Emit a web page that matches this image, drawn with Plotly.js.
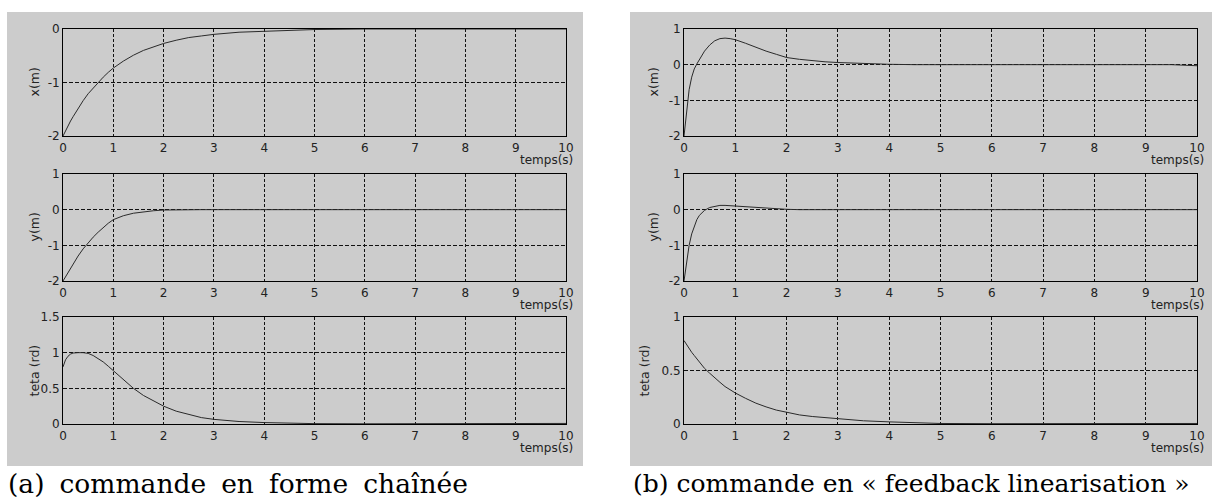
<!DOCTYPE html>
<html>
<head>
<meta charset="utf-8">
<script src="https://cdn.plot.ly/plotly-3.0.1.min.js"></script>
<style>
  html, body { margin: 0; padding: 0; background: #fff; overflow: hidden; }
  #chart { width: 1212px; height: 499px; }
</style>
</head>
<body>
<div id="chart"></div>
<script>
// Time samples (s) shared by all six responses
const temps = [0, 0.05, 0.1, 0.15, 0.2, 0.25, 0.3, 0.4, 0.5, 0.6, 0.7, 0.8, 0.9, 1,
  1.2, 1.4, 1.6, 1.8, 2, 2.25, 2.5, 2.75, 3, 3.5, 4, 4.5, 5, 6, 7, 8, 9, 9.5, 10];

// (a) chained-form control
const xChainee = [-2, -1.90, -1.81, -1.72, -1.64, -1.56, -1.48, -1.34, -1.21, -1.10, -0.99, -0.90, -0.81, -0.73,
  -0.60, -0.49, -0.40, -0.33, -0.27, -0.21, -0.16, -0.13, -0.10, -0.06, -0.04, -0.02, -0.01, 0, 0, 0, 0, 0, 0];
const yChainee = [-2, -1.88, -1.76, -1.64, -1.52, -1.41, -1.30, -1.10, -0.93, -0.77, -0.63, -0.50, -0.38, -0.28,
  -0.17, -0.10, -0.06, -0.03, -0.01, 0, 0, 0, 0, 0, 0, 0, 0, 0, 0, 0, 0, 0, 0];
const tetaChainee = [0.80, 0.90, 0.95, 0.98, 0.995, 1.0, 1.0, 1.0, 0.99, 0.96, 0.92, 0.87, 0.81, 0.75,
  0.62, 0.50, 0.40, 0.32, 0.25, 0.18, 0.13, 0.09, 0.065, 0.035, 0.02, 0.01, 0.005, 0.003, 0.002, 0.001, 0.001, 0.008, 0.008];

// (b) feedback linearisation control
const xFeedback = [-2, -1.25, -0.70, -0.35, -0.12, 0.02, 0.15, 0.38, 0.55, 0.67, 0.73, 0.745, 0.73, 0.70,
  0.60, 0.48, 0.38, 0.29, 0.20, 0.15, 0.11, 0.08, 0.06, 0.03, 0.01, 0, 0, 0, 0, 0, 0, 0, -0.03];
const yFeedback = [-2, -1.45, -1.0, -0.68, -0.45, -0.28, -0.16, -0.02, 0.06, 0.10, 0.12, 0.12, 0.11, 0.09,
  0.07, 0.05, 0.04, 0.025, 0.01, 0, 0, 0, 0, 0, 0, 0, 0, 0, 0, 0, 0, 0, 0];
const tetaFeedback = [0.78, 0.74, 0.705, 0.67, 0.64, 0.61, 0.58, 0.52, 0.475, 0.43, 0.39, 0.35, 0.32, 0.29,
  0.24, 0.195, 0.16, 0.13, 0.11, 0.085, 0.07, 0.06, 0.05, 0.03, 0.02, 0.012, 0.005, 0.003, 0.002, 0.004, 0.005, 0.005, 0.005];

// Axis ticks and labels
const timeTicks = [0, 1, 2, 3, 4, 5, 6, 7, 8, 9, 10];
const timeTickLabels = ['0', '1', '2', '3', '4', '5', '6', '7', '8', '9', '10'];
const posTicksA = [-2, -1, 0];
const posTickLabelsA = ['-2', '-1', '0'];
const posTicks = [-2, -1, 0, 1];
const posTickLabels = ['-2', '-1', '0', '1'];
const angTicksA = [0, 0.5, 1, 1.5];
const angTickLabelsA = ['0', '0.5', '1', '1.5'];
const angTicksB = [0, 0.5, 1];
const angTickLabelsB = ['0', '0.5', '1'];

const timeLabel = 'temps(s)';
const rowLabels = ['x(m)', 'y(m)', 'teta (rd)'];
// caption (a) is set justified across its column, hence the slightly wider word gaps
const captions = ['(a)\u2005 commande\u2005 en\u2005 forme\u2005 chaînée', '(b) commande en « feedback linearisation »'];
const captionSizes = [26.5, 25];

// ---- layout geometry (pixels of the 1212 x 499 page) ----
const W = 1212, H = 499;
const fx = p => p / W;
const fy = p => 1 - p / H;

const panelX = [[63, 566], [684, 1197]];
const rowY = [[29, 136], [174, 281], [317, 424]];
const grayBoxes = [[7, 12, 583, 466], [630, 12, 1212, 466]];
const yTitleX = [[34, 34, 34], [653, 653, 644]];

const series = [
  { y: xChainee, range: [-2, 0], tv: posTicksA, tt: posTickLabelsA },
  { y: yChainee, range: [-2, 1], tv: posTicks, tt: posTickLabels },
  { y: tetaChainee, range: [0, 1.5], tv: angTicksA, tt: angTickLabelsA },
  { y: xFeedback, range: [-2, 1], tv: posTicks, tt: posTickLabels },
  { y: yFeedback, range: [-2, 1], tv: posTicks, tt: posTickLabels },
  { y: tetaFeedback, range: [0, 1], tv: angTicksB, tt: angTickLabelsB }
];

const tickFont = { family: 'DejaVu Sans', size: 12, color: '#222' };
const gridColor = '#111';

const traces = [];
const layout = {
  width: W, height: H,
  margin: { l: 0, r: 0, t: 0, b: 0 },
  paper_bgcolor: '#ffffff',
  plot_bgcolor: '#ffffff',
  showlegend: false,
  shapes: [],
  annotations: []
};

// gray figure backgrounds behind each panel
grayBoxes.forEach(b => {
  layout.shapes.push({
    type: 'rect', xref: 'paper', yref: 'paper', layer: 'below',
    x0: fx(b[0]), x1: fx(b[2]), y0: fy(b[3]), y1: fy(b[1]),
    fillcolor: '#cccccc', line: { width: 0 }
  });
});

series.forEach((s, i) => {
  const panel = Math.floor(i / 3), row = i % 3, n = i + 1;
  const xa = 'xaxis' + (n === 1 ? '' : n), ya = 'yaxis' + (n === 1 ? '' : n);
  const xr = 'x' + (n === 1 ? '' : n), yr = 'y' + (n === 1 ? '' : n);
  const px = panelX[panel], py = rowY[row];

  traces.push({
    type: 'scatter', mode: 'lines', x: temps, y: s.y,
    xaxis: xr, yaxis: yr,
    line: { color: '#2a2a2a', width: 1 },
    hoverinfo: 'skip'
  });

  layout[xa] = {
    domain: [fx(px[0]), fx(px[1])], anchor: yr,
    range: [0, 10], tickmode: 'array', tickvals: timeTicks, ticktext: timeTickLabels,
    showgrid: true, gridcolor: gridColor, gridwidth: 1, griddash: '3px,2px',
    zeroline: false, showline: true, mirror: true, linecolor: '#000', linewidth: 1,
    ticks: '', ticklabelstandoff: 1, tickfont: tickFont, fixedrange: true
  };
  layout[ya] = {
    domain: [fy(py[1]), fy(py[0])], anchor: xr,
    range: s.range, tickmode: 'array', tickvals: s.tv, ticktext: s.tt,
    showgrid: true, gridcolor: gridColor, gridwidth: 1, griddash: '4px,2px',
    zeroline: false, showline: true, mirror: true, linecolor: '#000', linewidth: 1,
    ticks: '', tickfont: tickFont, fixedrange: true
  };

  // time label under the last tick
  layout.annotations.push({
    text: timeLabel, xref: 'paper', yref: 'paper',
    x: fx(px[1] + 9), y: fy(py[1] + 24), xanchor: 'right', yanchor: 'middle',
    showarrow: false, font: tickFont
  });
  // vertical quantity label
  layout.annotations.push({
    text: rowLabels[row], xref: 'paper', yref: 'paper',
    x: fx(yTitleX[panel][row]), y: fy((py[0] + py[1]) / 2),
    xanchor: 'center', yanchor: 'middle', textangle: -90,
    showarrow: false, font: { family: 'DejaVu Sans', size: 12.5, color: '#222' }
  });
});

// captions under the two panels
[[6, 0], [631, 1]].forEach(c => {
  layout.annotations.push({
    text: captions[c[1]], xref: 'paper', yref: 'paper',
    x: fx(c[0]), y: fy(483), xanchor: 'left', yanchor: 'middle',
    showarrow: false, font: { family: 'DejaVu Serif', size: captionSizes[c[1]], color: '#000' }
  });
});

Plotly.newPlot('chart', traces, layout, { staticPlot: true, displayModeBar: false });
</script>
</body>
</html>
